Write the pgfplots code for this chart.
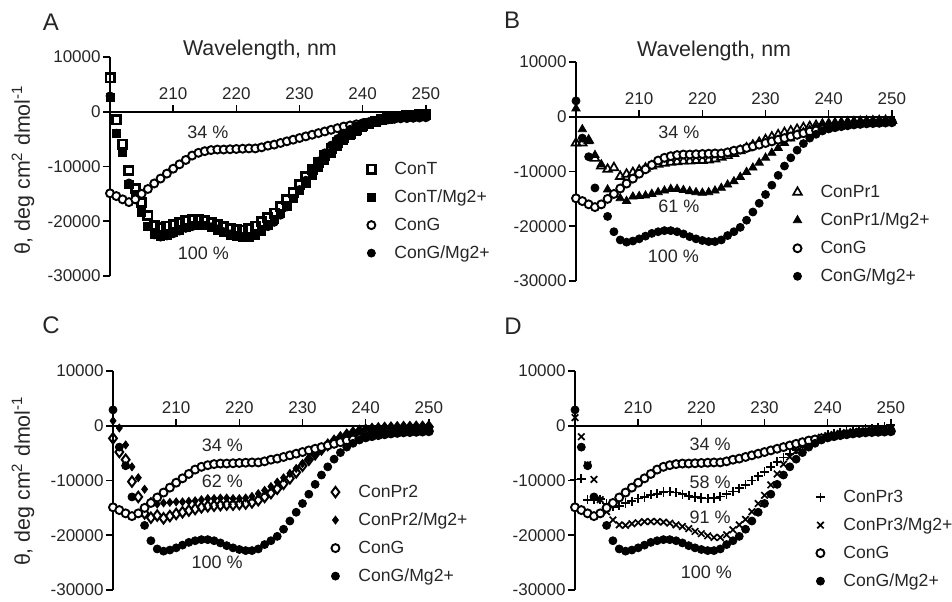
\documentclass[border=0pt]{standalone}
\usepackage{fontspec}
\setmainfont{Liberation Sans}
\usepackage{pgfplots}
\usepackage{pgfplotstable}
\pgfplotsset{compat=1.18}
\definecolor{txt}{HTML}{262626}

% CD spectra, theta in deg cm2 dmol-1, 200-250 nm
\pgfplotstableread{
lam G GMg T TMg P1 P1Mg P2 P2Mg P3 P3Mg
200 -14900 2900 6200 2600 -4800 1500 -2300 900 -9800 1500
201 -15400 -3900 -1500 -3900 -4800 -2300 -4800 -400 -9700 -2000
202 -16000 -7300 -5900 -7400 -4300 -4500 -6200 -3500 -13500 -7100
203 -16500 -13000 -10700 -13200 -7600 -7000 -10200 -7500 -13500 -9800
204 -16000 nan -14000 -15200 -9000 -8700 -13000 -9500 -13400 -13500
205 -15000 -18200 -16600 -18300 -9600 -13300 -16000 -11600 -14200 -15700
206 -14100 -21000 -19000 -21000 -9300 -14200 -16800 -13800 -14800 -17200
207 -13100 -22500 -20800 -22400 -10900 -14900 -16400 -14300 -14600 -18100
208 -12200 -22900 -21100 -22700 -10500 -15400 -16900 -14100 -14100 -18200
209 -11300 -22700 -20900 -22500 -10200 -14600 -16500 -14000 -13800 -17900
210 -10400 -22300 -20600 -22100 -9800 -14500 -16100 -13900 -13300 -17700
211 -9600 -21800 -20200 -21600 -9400 -14400 -15800 -13900 -13000 -17500
212 -8800 -21300 -19900 -21100 -9000 -14100 -15500 -13800 -12600 -17500
213 -8000 -21000 -19700 -20800 -8700 -13800 -15200 -13700 -12400 -17500
214 -7500 -20800 -19700 -20700 -8500 -13500 -14900 -13500 -12100 -17600
215 -7200 -20800 -19900 -20800 -8300 -13200 -14700 -13300 -12000 -17800
216 -7000 -21000 -20200 -21100 -8200 -13200 -14600 -13300 -12200 -18100
217 -6900 -21400 -20600 -21600 -8100 -13400 -14500 -13200 -12500 -18400
218 -6900 -21900 -21000 -22100 -8100 -13600 -14400 -13200 -12800 -18800
219 -6850 -22300 -21300 -22500 -8000 -13800 -14400 -13300 -13000 -19300
220 -6800 -22600 -21500 -22800 -8000 -13900 -14300 -13300 -13200 -19700
221 -6750 -22800 -21600 -23000 -7900 -13800 -14200 -13200 -13300 -20100
222 -6700 -22800 -21400 -23000 -7700 -13500 -14000 -12900 -13200 -20400
223 -6700 -22500 -20900 -22600 -7400 -13000 -13600 -12400 -12900 -20400
224 -6500 -21700 -20100 -21800 -7100 -12400 -13000 -11800 -12500 -19900
225 -6200 -21000 -19300 -20800 -6700 -11800 -12300 -11100 -12000 -19000
226 -6000 -20200 -18500 -19700 -6200 -11000 -11500 -10300 -11400 -18100
227 -5700 -18900 -17300 -18500 -5700 -10100 -10600 -9500 -10800 -17100
228 -5400 -17400 -16000 -17200 -5200 -9300 -9600 -8700 -10000 -15700
229 -5100 -15800 -14700 -15800 -4700 -8400 -8500 -7800 -9200 -14200
230 -4800 -14200 -13300 -14400 -4200 -7500 -7300 -6900 -8400 -12700
231 -4500 -12500 -11900 -13000 -3700 -6600 -6200 -6000 -7500 -10800
232 -4200 -10700 -10500 -11600 -3300 -5700 -5200 -5100 -6600 -8800
233 -3900 -9000 -9200 -10200 -2900 -4800 -4300 -4200 -5800 -7000
234 -3600 -7500 -7900 -8900 -2600 -4000 -3500 -3400 -5100 -5700
235 -3300 -6100 -6700 -7600 -2300 -3300 -2800 -2700 -4400 -4600
236 -3000 -4900 -5600 -6400 -2000 -2800 -2200 -2100 -3800 -3700
237 -2700 -3900 -4700 -5300 -1800 -2400 -1700 -1600 -3200 -3000
238 -2500 -3200 -3900 -4300 -1600 -2000 -1300 -1200 -2600 -2500
239 -2300 -2600 -3200 -3500 -1400 -1700 -1000 -900 -2100 -2100
240 -2100 -2200 -2600 -2900 -1300 -1500 -800 -600 -1700 -1800
241 -1900 -1900 -2100 -2300 -1200 -1300 -650 -500 -1400 -1600
242 -1700 -1700 -1700 -1900 -1100 -1200 -550 -400 -1200 -1400
243 -1550 -1500 -1400 -1600 -1000 -1100 -450 -300 -1000 -1250
244 -1400 -1350 -1100 -1300 -950 -1050 -400 -250 -900 -1100
245 -1300 -1250 -900 -1100 -900 -1000 -350 -200 -800 -1000
246 -1200 -1150 -800 -950 -850 -900 -300 -150 -600 -900
247 -1150 -1050 -700 -850 -800 -850 -300 -100 -500 -800
248 -1100 -1000 -600 -750 -750 -800 -250 -100 -300 -700
249 -1050 -950 -550 -700 -700 -750 -250 -50 -100 -600
250 -1000 -900 -500 -650 -700 -700 -200 0 200 -500
}\cd

\tikzset{
  pct/.style={font=\fontsize{9}{10}\selectfont, text=txt},
  ttl/.style={font=\fontsize{10.7}{12}\selectfont, text=txt},
  lett/.style={font=\fontsize{12}{13}\selectfont, text=txt},
}

\pgfplotsset{
  panel/.style={
    scale only axis, width=159.5pt, height=109.5pt,
    xmin=200, xmax=250.5, ymin=-30000, ymax=10000,
    axis x line=middle, axis y line=left,
    x axis line style={-, line width=0.8pt},
    y axis line style={-, line width=0.8pt},
    every tick/.style={black, line width=0.8pt},
    major tick length=3.5pt,
    scaled y ticks=false,
    xtick={210,220,230,240,250}, xticklabels={210,220,230,240,250},
    ytick={-30000,-20000,-10000,0,10000},
    yticklabels={-30000,-20000,-10000,0,10000},
    xtick align=inside, ytick align=outside,
    tick label style={font=\fontsize{8.5}{9}\selectfont, text=txt},
    xticklabel style={anchor=south, inner sep=0pt, yshift=6pt},
    yticklabel style={anchor=east, inner sep=0pt, xshift=-1pt},
    clip=false,
    legend cell align=left,
    legend style={draw=none, fill=none, inner sep=0pt, row sep=5pt, anchor=north west,
      font=\fontsize{8.8}{10}\selectfont, text=txt,
      nodes={inner ysep=0pt, inner xsep=2.5pt, text height=7pt, text depth=2pt}},
    legend image code/.code={\path[draw=none, fill=none] (-4pt,0pt) -- (9pt,0pt); \draw[##1, only marks] plot coordinates {(0pt,0pt)};},
  },
  opencirc/.style={only marks, black, mark=*, mark size=2pt, mark options={fill=white, line width=0.95pt}},
  fillcirc/.style={only marks, black, mark=*, mark size=2pt},
}

\begin{document}
\begin{tikzpicture}
\path[use as bounding box] (0,0) rectangle (476pt,-300.5pt);

% panel letters and y labels
\node[lett] at (25.5pt,-11pt) {A};
\node[lett] at (256pt,-10pt) {B};
\node[lett] at (25.5pt,-162.5pt) {C};
\node[lett] at (256.5pt,-163pt) {D};
\node[ttl, rotate=90] at (11.5pt,-85pt) {θ, deg cm\textsuperscript{2} dmol\textsuperscript{-1}};
\node[ttl, rotate=90] at (11.5pt,-240.5pt) {θ, deg cm\textsuperscript{2} dmol\textsuperscript{-1}};

% A
\begin{axis}[panel, at={(55pt,-28.5pt)}, anchor=north west,
  legend style={at={(axis description cs:0.793,0.531)}}]
\addplot[only marks, black, mark=square, mark size=2.05pt, mark options={line width=1.4pt}] table[x=lam,y=T]{\cd};
\addlegendentry{ConT}
\addplot[only marks, black, mark=square*, mark size=2.05pt] table[x=lam,y=TMg]{\cd};
\addlegendentry{ConT/Mg2+}
\addplot[opencirc] table[x=lam,y=G]{\cd};
\addlegendentry{ConG}
\addplot[fillcirc] table[x=lam,y=GMg]{\cd};
\addlegendentry{ConG/Mg2+}
\node[pct] at (axis cs:215.5,-3800) {34 \%};
\node[pct] at (axis cs:214.8,-25800) {100 \%};
\node[ttl] at (axis description cs:0.47,1.032) {Wavelength, nm};
\end{axis}

% B
\begin{axis}[panel, at={(288pt,-31pt)}, anchor=north west,
  legend style={at={(axis description cs:0.668,0.448)}}]
\addplot[only marks, black, mark=triangle, mark size=2.5pt, mark options={line width=0.85pt}] table[x=lam,y=P1]{\cd};
\addlegendentry{ConPr1}
\addplot[only marks, black, mark=triangle*, mark size=2.4pt] table[x=lam,y=P1Mg]{\cd};
\addlegendentry{ConPr1/Mg2+}
\addplot[opencirc] table[x=lam,y=G]{\cd};
\addlegendentry{ConG}
\addplot[fillcirc] table[x=lam,y=GMg]{\cd};
\addlegendentry{ConG/Mg2+}
\node[pct] at (axis cs:216.3,-2900) {34 \%};
\node[pct] at (axis cs:216.3,-16300) {61 \%};
\node[pct] at (axis cs:215.4,-25400) {100 \%};
\node[ttl] at (axis description cs:0.433,1.05) {Wavelength, nm};
\end{axis}

% C
\begin{axis}[panel, at={(56.5pt,-185.5pt)}, anchor=north west,
  legend style={at={(axis description cs:0.671,0.49)}}]
\addplot[only marks, black, mark=diamond, mark size=2.6pt, mark options={line width=1pt}] table[x=lam,y=P2]{\cd};
\addlegendentry{ConPr2}
\addplot[only marks, black, mark=diamond*, mark size=2pt] table[x=lam,y=P2Mg]{\cd};
\addlegendentry{ConPr2/Mg2+}
\addplot[opencirc] table[x=lam,y=G]{\cd};
\addlegendentry{ConG}
\addplot[fillcirc] table[x=lam,y=GMg]{\cd};
\addlegendentry{ConG/Mg2+}
\node[pct] at (axis cs:217.3,-3500) {34 \%};
\node[pct] at (axis cs:217.3,-10200) {62 \%};
\node[pct] at (axis cs:216.5,-25000) {100 \%};
\end{axis}

% D
\begin{axis}[panel, at={(287.5pt,-185.5pt)}, anchor=north west,
  legend style={at={(axis description cs:0.743,0.467)}}]
\addplot[only marks, black, mark=+, mark size=2.3pt, mark options={line width=0.85pt}] table[x=lam,y=P3]{\cd};
\addlegendentry{ConPr3}
\addplot[only marks, black, mark=x, mark size=2.3pt, mark options={line width=0.85pt}] table[x=lam,y=P3Mg]{\cd};
\addlegendentry{ConPr3/Mg2+}
\addplot[opencirc] table[x=lam,y=G]{\cd};
\addlegendentry{ConG}
\addplot[fillcirc] table[x=lam,y=GMg]{\cd};
\addlegendentry{ConG/Mg2+}
\node[pct] at (axis cs:221.4,-3300) {34 \%};
\node[pct] at (axis cs:221.4,-10400) {58 \%};
\node[pct] at (axis cs:221.4,-16800) {91 \%};
\node[pct] at (axis cs:220.8,-26700) {100 \%};
\end{axis}
\end{tikzpicture}
\end{document}
